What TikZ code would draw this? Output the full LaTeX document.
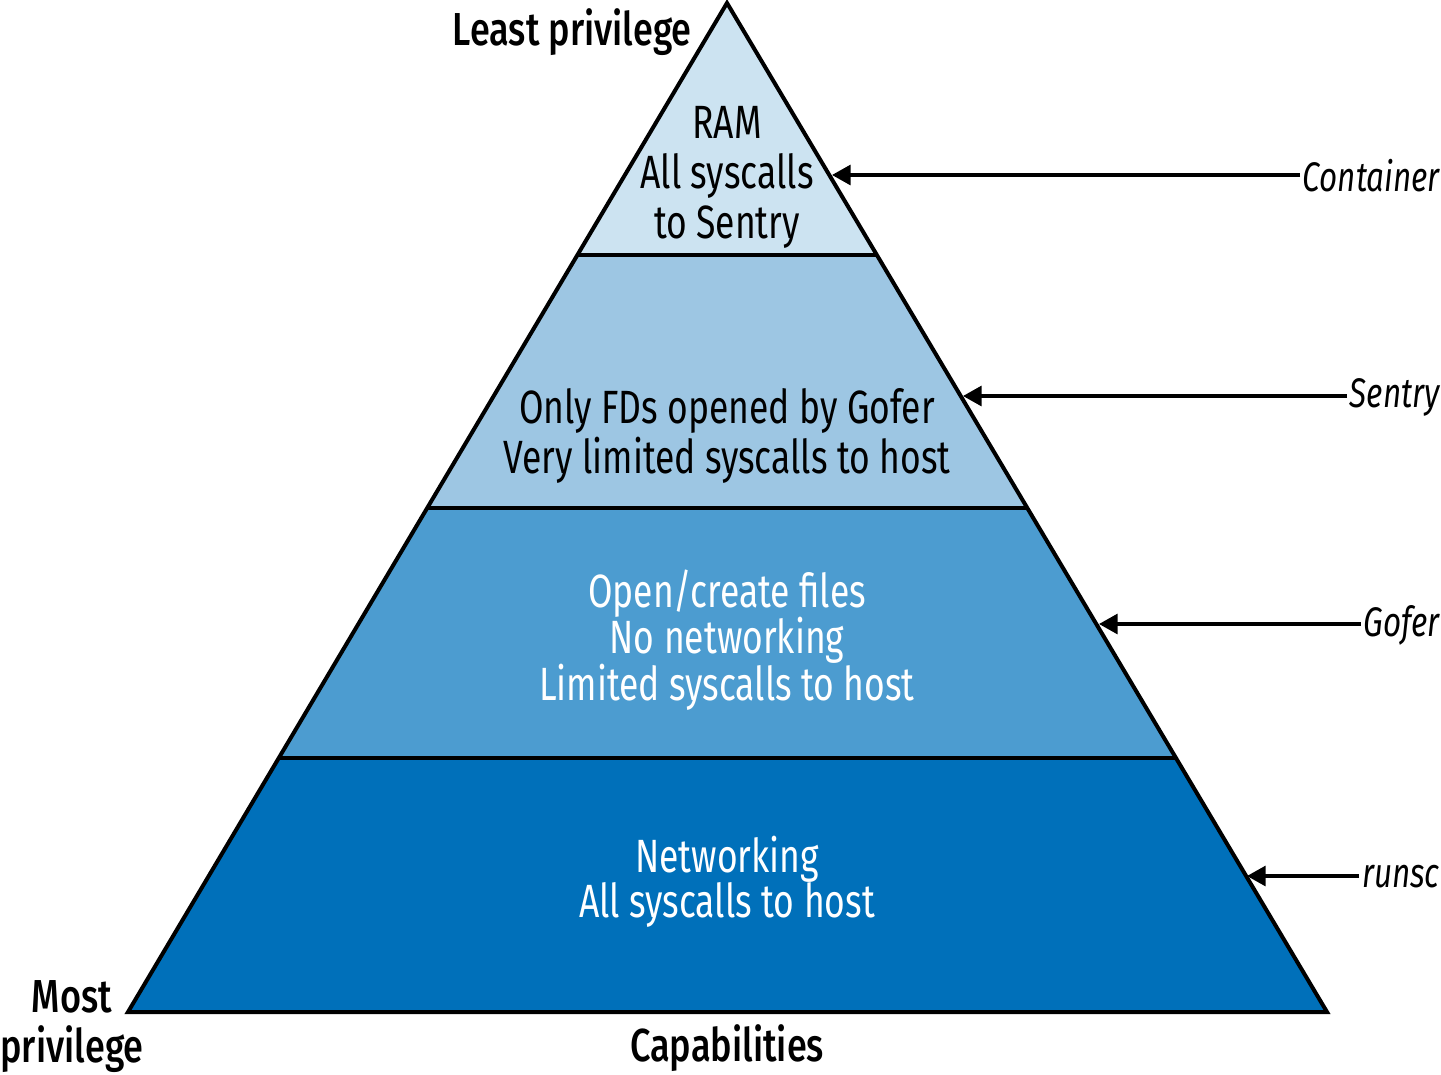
\documentclass[tikz,border=0pt]{standalone}
\usepackage{fontspec}
\setmainfont{Fira Sans}[FakeStretch=0.76]
\newfontfamily\medfont{Fira Sans Medium}[FakeStretch=0.78]
\usetikzlibrary{arrows.meta}
\definecolor{lay1}{HTML}{CCE3F1}
\definecolor{lay2}{HTML}{9DC6E3}
\definecolor{lay3}{HTML}{4C9CD0}
\definecolor{lay4}{HTML}{0070BA}
\tikzset{
  layertext/.style={align=center, font=\fontsize{35}{37.5}\selectfont, inner sep=0pt},
  sidelabel/.style={anchor=east, font=\fontsize{31}{36}\selectfont\itshape, inner sep=0pt},
  axislabel/.style={align=center, font=\fontsize{34.7}{37.5}\selectfont\medfont, inner sep=0pt},
  pointer/.style={line width=2.4pt, -{Triangle[length=14pt,width=15pt]}},
  outline/.style={line width=3pt, line join=miter},
  sep/.style={line width=2.3pt}
}
\begin{document}
\begin{tikzpicture}[x=0.75pt,y=-0.75pt]
\useasboundingbox (0,0) rectangle (1441,1074);
% apex and corners
\coordinate (apex) at (727,3);
\coordinate (bl) at (128,1012);
\coordinate (br) at (1327,1012);
\coordinate (l1) at (577.4,255);  \coordinate (r1) at (876.6,255);
\coordinate (l2) at (427.1,508);  \coordinate (r2) at (1026.9,508);
\coordinate (l3) at (278.7,758);  \coordinate (r3) at (1175.3,758);
% layers
\fill[lay1] (apex) -- (r1) -- (l1) -- cycle;
\fill[lay2] (l1) -- (r1) -- (r2) -- (l2) -- cycle;
\fill[lay3] (l2) -- (r2) -- (r3) -- (l3) -- cycle;
\fill[lay4] (l3) -- (r3) -- (br) -- (bl) -- cycle;
\draw[sep] (l1) -- (r1);
\draw[sep] (l2) -- (r2);
\draw[sep] (l3) -- (r3);
\draw[outline] (apex) -- (br) -- (bl) -- cycle;
% layer texts
\node[layertext] (t1) at (727,177) {RAM\\All syscalls\\to Sentry};
\node[layertext] (t2) at (727,436) {Only FDs opened by Gofer\\Very limited syscalls to host};
\node[layertext, text=white, font=\fontsize{35}{35}\selectfont] (t3) at (727,640) {Open/create files\\No networking\\Limited syscalls to host};
\node[layertext, text=white, font=\fontsize{35}{34}\selectfont] (t4) at (727,882) {Networking\\All syscalls to host};
% axis labels
\node[axislabel, anchor=east] (least) at (692,32) {Least privilege};
\node[axislabel] (most) at (72,1027) {Most\\privilege};
\node[axislabel] (cap) at (727,1048) {Capabilities};
% side labels and arrows
\node[sidelabel] (container) at (1440,176) {Container};
\node[sidelabel] (sentry) at (1440,397) {Sentry};
\node[sidelabel] (gofer) at (1440,625) {Gofer};
\node[sidelabel] (runsc) at (1440,877) {runsc};
\coordinate (p1) at (832,175);
\coordinate (p2) at (963,396);
\coordinate (p3) at (1099,624);
\coordinate (p4) at (1247,876);
\draw[pointer] ([xshift=-2pt]container.west |- p1) -- (p1);
\draw[pointer] ([xshift=-2pt]sentry.west |- p2) -- (p2);
\draw[pointer] ([xshift=-2pt]gofer.west |- p3) -- (p3);
\draw[pointer] ([xshift=-2pt]runsc.west |- p4) -- (p4);
\end{tikzpicture}
\end{document}
